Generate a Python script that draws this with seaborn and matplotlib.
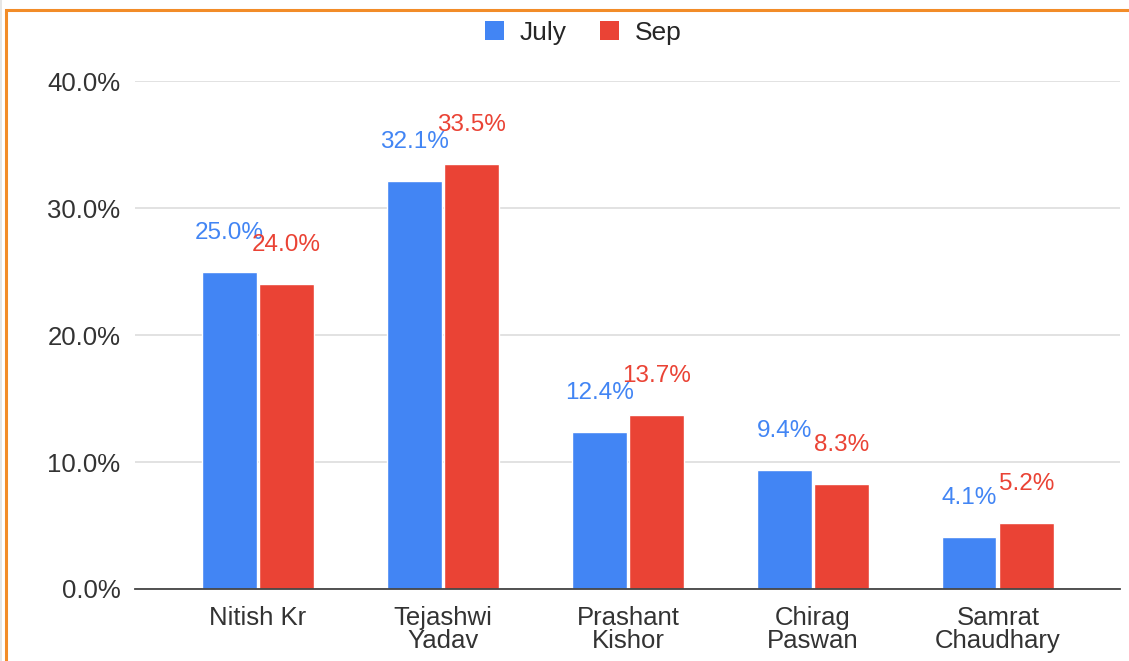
import matplotlib
matplotlib.use("Agg")
import matplotlib.pyplot as plt
import seaborn as sns
import pandas as pd
from matplotlib.patches import Rectangle, Patch

categories = ["Nitish Kr", "Tejashwi\nYadav", "Prashant\nKishor", "Chirag\nPaswan", "Samrat\nChaudhary"]
july = [25.0, 32.1, 12.4, 9.4, 4.1]
sep = [24.0, 33.5, 13.7, 8.3, 5.2]
series = ["July", "Sep"]
colors = {"July": "#4285F4", "Sep": "#EA4335"}
yticks = [0, 10, 20, 30, 40]

df = pd.DataFrame({
    "cat": categories * 2,
    "series": ["July"] * len(categories) + ["Sep"] * len(categories),
    "val": july + sep,
})

sns.set_style("white")
plt.rcParams["font.family"] = ["Liberation Sans", "DejaVu Sans"]

W, H = 1129, 661
fig = plt.figure(figsize=(W / 100, H / 100), dpi=100)
ax = fig.add_axes([135 / W, 1 - 589 / H, (1120 - 135) / W, (589 - 81) / H])

sns.barplot(data=df, x="cat", y="val", hue="series", palette=colors,
            width=0.62, gap=0.05, ax=ax, legend=False, saturation=1)

ax.set_ylim(0, 40)
ax.set_xlim(-0.665, 4.66)
ax.set_yticks(yticks)
ax.set_yticklabels([f"{v:.1f}%" for v in yticks])
ax.set_xlabel("")
ax.set_ylabel("")
ax.grid(axis="y", color="#dddddd", linewidth=1.2)
ax.set_axisbelow(True)
for s in ["left", "right", "top"]:
    ax.spines[s].set_visible(False)
ax.spines["bottom"].set_color("#444444")
ax.spines["bottom"].set_linewidth(1.3)
ax.tick_params(axis="both", length=0, labelsize=18.5, colors="#333333")
ax.tick_params(axis="y", pad=10.5)
ax.tick_params(axis="x", pad=12)
for t in ax.get_xticklabels():
    t.set_linespacing(0.95)
    t.set_verticalalignment("top")

for container, name in zip(ax.containers, series):
    for bar in container:
        h = bar.get_height()
        ax.annotate(f"{h:.1f}%", (bar.get_x() + bar.get_width() / 2, h),
                    xytext=(0, 28), textcoords="offset points",
                    ha="center", va="center", fontsize=17.5,
                    color=colors[name], annotation_clip=False)

handles = [Patch(facecolor=colors[s], edgecolor="none") for s in series]
fig.legend(handles, series, loc="center", bbox_to_anchor=(583 / W, 1 - 33 / H),
           ncol=2, frameon=False, fontsize=19, handlelength=0.72,
           handleheight=0.72, handletextpad=0.6, columnspacing=1.25)

# orange frame
fig.patches.append(Rectangle((6 / W, -0.1), 1.2, (H - 10) / H + 0.1,
                             transform=fig.transFigure, fill=False,
                             edgecolor="#F28C28", linewidth=2.2))
fig.patches.append(Rectangle((0, 0), 1.5 / W, 1, transform=fig.transFigure,
                             facecolor="#e6e6e6", edgecolor="none"))

fig.savefig("out.png", dpi=100)
